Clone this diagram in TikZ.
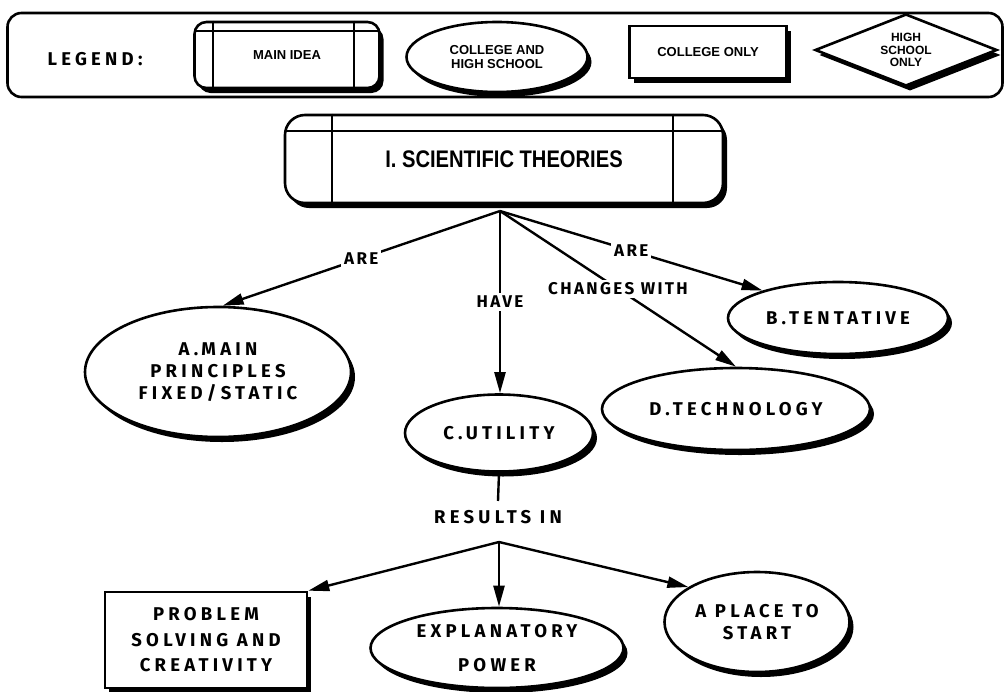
\documentclass[tikz,border=0pt]{standalone}
\usepackage{fontspec}
\setmainfont{Fira Sans}[LetterSpace=14]
\newfontfamily\nodefont{Fira Sans}[LetterSpace=23]
\newfontfamily\titlefont{Liberation Sans}[FakeStretch=0.84]
\newfontfamily\legendfont{Liberation Sans}
\usetikzlibrary{shapes.geometric, shadows, calc, arrows.meta, positioning}
\tikzstyle{line} = [draw, line width=2.4pt, -{Triangle[length=21pt,width=11pt]}]

\begin{document}
\begin{tikzpicture}[x=1pt, y=-1pt, line width=2.6pt, every node/.style={align=center, font=\bfseries\fontsize{17}{21}\selectfont}]
  % Define styles
  \tikzstyle{blackshadow} = [drop shadow={shadow xshift=4pt, shadow yshift=-5pt, fill=black, opacity=1}]
  \tikzstyle{mainidea} = [rectangle, rounded corners=20pt, draw, fill=white, blackshadow]
  \tikzstyle{both} = [ellipse, draw, fill=white, inner sep=0pt, blackshadow, nodetext]
  \tikzstyle{college} = [rectangle, draw, fill=white, inner sep=0pt, blackshadow]
  \tikzstyle{highschool} = [diamond, aspect=2.5, draw, fill=white, inner sep=0pt, blackshadow]
  \tikzstyle{nodetext} = [font=\nodefont\bfseries\fontsize{18.5}{22}\selectfont]
  \tikzstyle{legendtext} = [font=\legendfont\bfseries\fontsize{13}{13.5}\selectfont]
  \tikzstyle{edgetext} = [fill=white, inner sep=3pt]
  \tikzstyle{divider} = [line width=2pt]

  \useasboundingbox (0,0) rectangle (1007,691);

  % Legend
  \node [draw, rounded corners=14pt, minimum width=995pt, minimum height=84pt] (legend) at (505,55) {};
  \node [nodetext] (legendtitle) at (95,59) {LEGEND:};
  \node [mainidea, rounded corners=12pt, minimum width=185pt, minimum height=66pt, legendtext] (legmain) at (287,55) {MAIN IDEA};
  \node [both, minimum width=181pt, minimum height=70pt, legendtext] (legboth) at (497,57) {COLLEGE AND\\HIGH SCHOOL};
  \node [college, minimum width=157pt, minimum height=52pt, legendtext] (legcollege) at (708,52) {COLLEGE ONLY};
  \node [highschool, minimum width=182pt, minimum height=72pt, font=\legendfont\bfseries\fontsize{12}{12.5}\selectfont] (leghigh) at (906,50) {HIGH\\SCHOOL\\ONLY};
  \draw [divider] ($(legmain.north west)+(20,0)$) -- ($(legmain.south west)+(20,0)$);
  \draw [divider] ($(legmain.north east)+(-27,0)$) -- ($(legmain.south east)+(-27,0)$);
  \draw [divider] ($(legmain.north west)+(1,10)$) -- ($(legmain.north east)+(-1,10)$);

  % Place nodes
  \node [mainidea, minimum width=438pt, minimum height=88pt, font=\titlefont\bfseries\fontsize{24}{28}\selectfont] (theories) at (504,159) {I. SCIENTIFIC THEORIES};
  \draw [divider] ($(theories.north west)+(48,0)$) -- ($(theories.south west)+(48,0)$);
  \draw [divider] ($(theories.north east)+(-51,0)$) -- ($(theories.south east)+(-51,0)$);
  \draw [divider] ($(theories.north west)+(2,17)$) -- ($(theories.north east)+(-2,17)$);
  \coordinate (hub) at (500,211);

  \node [both, minimum width=266pt, minimum height=130pt] (principles) at (218,372) {A.\,MAIN\\PRINCIPLES\\FIXED/STATIC};
  \node [both, minimum width=220pt, minimum height=72pt] (tentative) at (838,318) {B.\,TENTATIVE};
  \node [both, minimum width=188pt, minimum height=77pt] (utility) at (499,433) {C.\,UTILITY};
  \node [both, minimum width=268pt, minimum height=82pt] (technology) at (736,409) {D.\,TECHNOLOGY};

  \node [edgetext, nodetext, inner sep=8pt] (results) at (498,517) {RESULTS IN};
  \coordinate (fork) at (499,542);

  \node [college, minimum width=202pt, minimum height=96pt, font=\nodefont\bfseries\fontsize{18.5}{25.5}\selectfont] (problem) at (206,640) {PROBLEM\\SOLVING AND\\CREATIVITY};
  \node [both, minimum width=253pt, minimum height=80pt, font=\nodefont\bfseries\fontsize{18.5}{34}\selectfont] (explanatory) at (497,648) {EXPLANATORY\\POWER};
  \node [both, minimum width=185pt, minimum height=100pt] (place) at (757,622) {A PLACE TO\\START};

  % Draw edges
  \path [line] (hub) -- node[edgetext] {ARE} (principles.86);
  \path [line] (hub) -- node[edgetext] {HAVE} (hub |- utility.north);
  \path [line] (hub) -- node[edgetext] {ARE} (tentative.160);
  \path [line] (hub) -- node[edgetext] {CHANGES WITH} (technology.north);
  \draw [line width=2.4pt] (utility.south) -- (results.north);
  \path [line] (fork) -- (problem.north east);
  \path [line] (fork) -- (fork |- explanatory.north);
  \path [line] (fork) -- (place.153);
\end{tikzpicture}
\end{document}
